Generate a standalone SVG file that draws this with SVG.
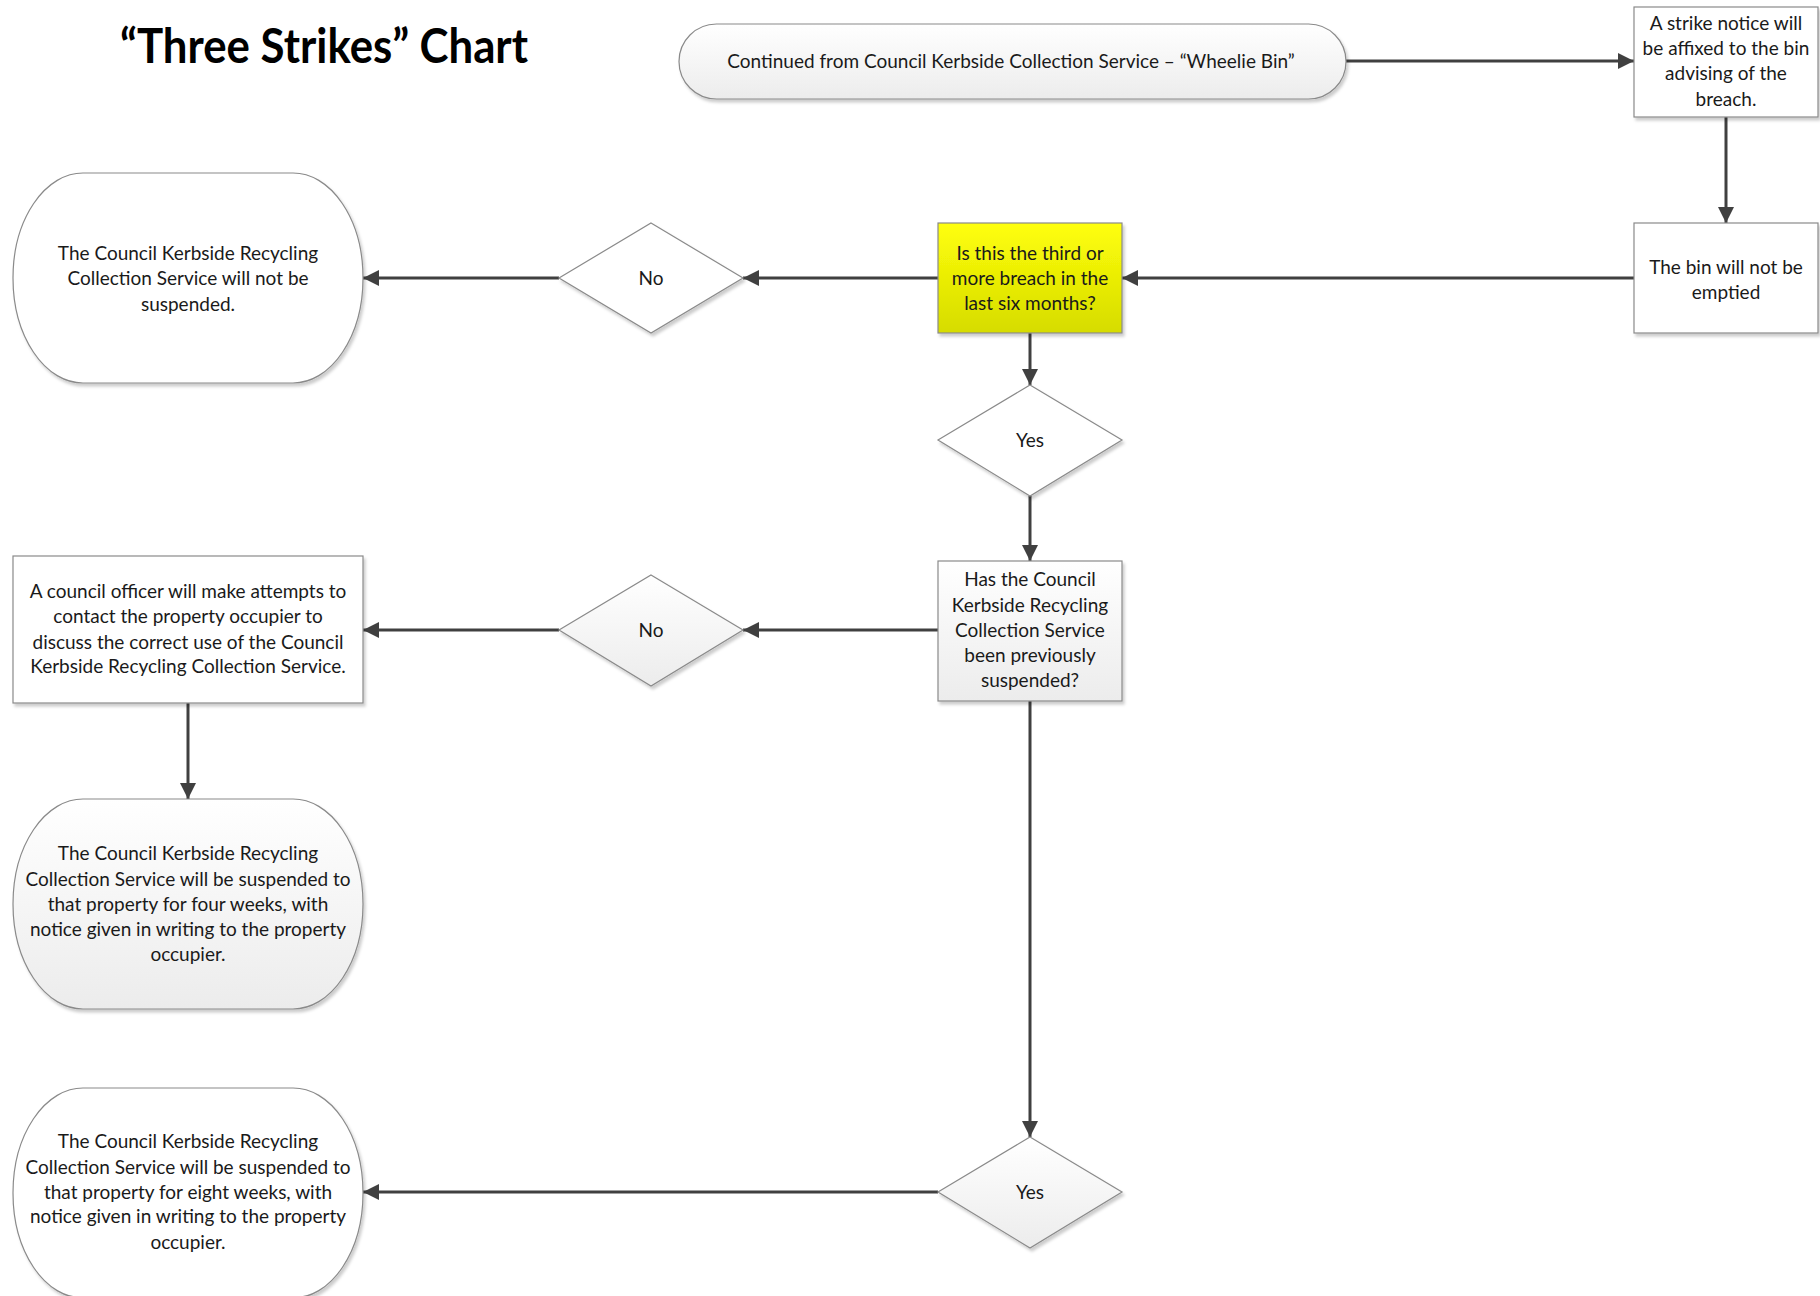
<svg xmlns="http://www.w3.org/2000/svg" width="1820" height="1296" viewBox="0 0 1820 1296">
  <defs>
    <style>
      .lbl { font-family: Lato, "Open Sans", "Liberation Sans", sans-serif; font-size: 19px; fill: #1a1a1a; text-anchor: middle; }
      .title { font-family: Lato, "Open Sans", "Liberation Sans", sans-serif; font-size: 48px; font-weight: bold; fill: #000; }
      .shape { stroke: #8a8a8a; stroke-width: 1.2; }
      .plain { fill: #ffffff; }
      .soft { fill: url(#greyFade); }
      .conn { fill: none; stroke: #404040; stroke-width: 3; }
    </style>
    <linearGradient id="greyFade" x1="0" y1="0" x2="0" y2="1">
      <stop offset="0" stop-color="#ffffff"/>
      <stop offset="1" stop-color="#ececec"/>
    </linearGradient>
    <linearGradient id="yellowFade" x1="0" y1="0" x2="0" y2="1">
      <stop offset="0" stop-color="#ffff0a"/>
      <stop offset="1" stop-color="#d6dc00"/>
    </linearGradient>
    <filter id="shadow" x="-10%" y="-10%" width="120%" height="120%">
      <feDropShadow dx="2" dy="3" stdDeviation="1.5" flood-color="#000" flood-opacity="0.2"/>
    </filter>
    <marker id="arrow" markerUnits="userSpaceOnUse" markerWidth="18" markerHeight="18" refX="16" refY="9" orient="auto">
      <path d="M0,1 L16,9 L0,17 z" fill="#404040"/>
    </marker>
  </defs>

  <rect width="1820" height="1296" fill="#ffffff"/>

  <text class="title" x="120" y="63" textLength="408" lengthAdjust="spacingAndGlyphs">“Three Strikes” Chart</text>

  <!-- connectors -->
  <g id="connectors">
    <path class="conn" d="M1346,61 H1634" marker-end="url(#arrow)"/>
    <path class="conn" d="M1726,117 V223" marker-end="url(#arrow)"/>
    <path class="conn" d="M1634,278 H1122" marker-end="url(#arrow)"/>
    <path class="conn" d="M938,278 H743" marker-end="url(#arrow)"/>
    <path class="conn" d="M559,278 H363" marker-end="url(#arrow)"/>
    <path class="conn" d="M1030,333 V385" marker-end="url(#arrow)"/>
    <path class="conn" d="M1030,496 V561" marker-end="url(#arrow)"/>
    <path class="conn" d="M938,630 H743" marker-end="url(#arrow)"/>
    <path class="conn" d="M559,630 H363" marker-end="url(#arrow)"/>
    <path class="conn" d="M188,703 V799" marker-end="url(#arrow)"/>
    <path class="conn" d="M1030,701 V1137" marker-end="url(#arrow)"/>
    <path class="conn" d="M938,1192 H363" marker-end="url(#arrow)"/>
  </g>

  <!-- start terminator -->
  <g id="start">
    <rect class="shape soft" x="679" y="24" width="667" height="75" rx="37.5" ry="37.5" filter="url(#shadow)"/>
    <text class="lbl" x="1011" y="68">Continued from Council Kerbside Collection Service – “Wheelie Bin”</text>
  </g>

  <g id="strike-notice">
    <rect class="shape plain" x="1634" y="7" width="184" height="110" filter="url(#shadow)"/>
    <text class="lbl" x="1726" y="30">A strike notice will</text>
    <text class="lbl" x="1726" y="55">be affixed to the bin</text>
    <text class="lbl" x="1726" y="80">advising of the</text>
    <text class="lbl" x="1726" y="106">breach.</text>
  </g>

  <g id="not-emptied">
    <rect class="shape plain" x="1634" y="223" width="184" height="110" filter="url(#shadow)"/>
    <text class="lbl" x="1726" y="274">The bin will not be</text>
    <text class="lbl" x="1726" y="299">emptied</text>
  </g>

  <g id="third-breach">
    <rect class="shape" x="938" y="223" width="184" height="110" fill="url(#yellowFade)" filter="url(#shadow)"/>
    <text class="lbl" x="1030" y="260">Is this the third or</text>
    <text class="lbl" x="1030" y="285">more breach in the</text>
    <text class="lbl" x="1030" y="310">last six months?</text>
  </g>

  <g id="no-first">
    <polygon class="shape plain" points="651,223 743,278 651,333 559,278" filter="url(#shadow)"/>
    <text class="lbl" x="651" y="285">No</text>
  </g>

  <g id="not-suspended">
    <rect class="shape plain" x="13" y="173" width="350" height="210" rx="70" ry="105" filter="url(#shadow)"/>
    <text class="lbl" x="188" y="260">The Council Kerbside Recycling</text>
    <text class="lbl" x="188" y="285">Collection Service will not be</text>
    <text class="lbl" x="188" y="311">suspended.</text>
  </g>

  <g id="yes-first">
    <polygon class="shape plain" points="1030,385 1122,440 1030,496 938,440" filter="url(#shadow)"/>
    <text class="lbl" x="1030" y="447">Yes</text>
  </g>

  <g id="previously-suspended">
    <rect class="shape soft" x="938" y="561" width="184" height="140" filter="url(#shadow)"/>
    <text class="lbl" x="1030" y="586">Has the Council</text>
    <text class="lbl" x="1030" y="612">Kerbside Recycling</text>
    <text class="lbl" x="1030" y="637">Collection Service</text>
    <text class="lbl" x="1030" y="662">been previously</text>
    <text class="lbl" x="1030" y="687">suspended?</text>
  </g>

  <g id="no-second">
    <polygon class="shape soft" points="651,575 743,630 651,686 559,630" filter="url(#shadow)"/>
    <text class="lbl" x="651" y="637">No</text>
  </g>

  <g id="officer-contact">
    <rect class="shape plain" x="13" y="556" width="350" height="147" filter="url(#shadow)"/>
    <text class="lbl" x="188" y="598">A council officer will make attempts to</text>
    <text class="lbl" x="188" y="623">contact the property occupier to</text>
    <text class="lbl" x="188" y="649">discuss the correct use of the Council</text>
    <text class="lbl" x="188" y="673">Kerbside Recycling Collection Service.</text>
  </g>

  <g id="four-weeks">
    <rect class="shape soft" x="13" y="799" width="350" height="210" rx="70" ry="105" filter="url(#shadow)"/>
    <text class="lbl" x="188" y="860">The Council Kerbside Recycling</text>
    <text class="lbl" x="188" y="886">Collection Service will be suspended to</text>
    <text class="lbl" x="188" y="911">that property for four weeks, with</text>
    <text class="lbl" x="188" y="936">notice given in writing to the property</text>
    <text class="lbl" x="188" y="961">occupier.</text>
  </g>

  <g id="yes-second">
    <polygon class="shape soft" points="1030,1137 1122,1192 1030,1248 938,1192" filter="url(#shadow)"/>
    <text class="lbl" x="1030" y="1199">Yes</text>
  </g>

  <g id="eight-weeks">
    <rect class="shape plain" x="13" y="1088" width="350" height="210" rx="70" ry="105" filter="url(#shadow)"/>
    <text class="lbl" x="188" y="1148">The Council Kerbside Recycling</text>
    <text class="lbl" x="188" y="1174">Collection Service will be suspended to</text>
    <text class="lbl" x="188" y="1199">that property for eight weeks, with</text>
    <text class="lbl" x="188" y="1223">notice given in writing to the property</text>
    <text class="lbl" x="188" y="1249">occupier.</text>
  </g>
</svg>
